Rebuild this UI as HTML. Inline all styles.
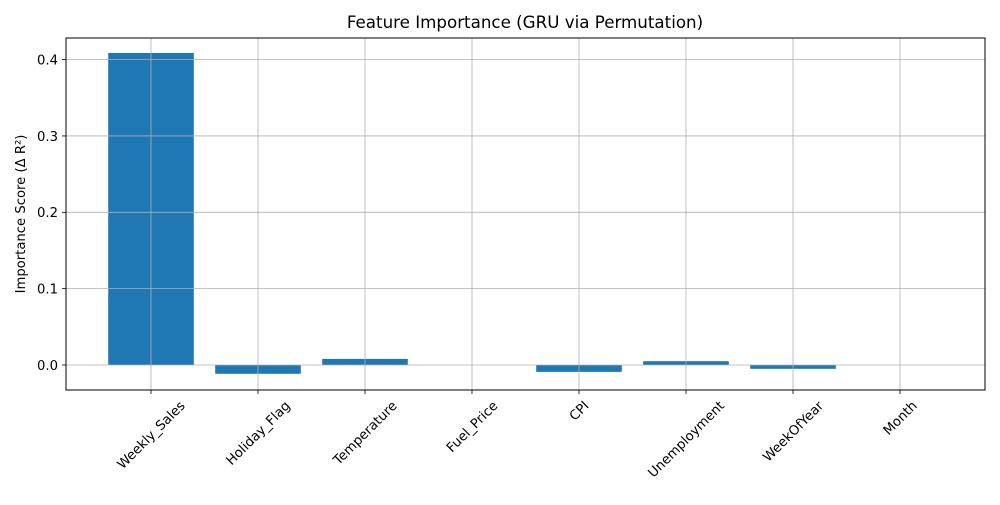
<!DOCTYPE html>
<html><head><meta charset="utf-8"><style>
body{margin:0;background:#fff}
svg text{font-family:"DejaVu Sans","Liberation Sans",sans-serif;fill:#000}
</style></head><body>
<svg id="chart" width="1000" height="500" viewBox="0 0 1000 500">
<rect width="1000" height="500" fill="#fff"/>
<text x="525" y="28" font-size="16.7" text-anchor="middle">Feature Importance (GRU via Permutation)</text>
<g id="bars"></g>
<g id="grid"></g>
<rect x="66" y="38" width="919" height="352" fill="none" stroke="#000" stroke-width="1"/>
<g id="axes"></g>
<text transform="translate(25,214) rotate(-90)" font-size="13.2" text-anchor="middle">Importance Score (Δ R²)</text>
</svg>
<script>
const categories=["Weekly_Sales","Holiday_Flag","Temperature","Fuel_Price","CPI","Unemployment","WeekOfYear","Month"];
const values=[0.4087,-0.0115,0.008,0,-0.009,0.005,-0.005,0];
const yTicks=[0,0.1,0.2,0.3,0.4];
const yTickLabels=["0.0","0.1","0.2","0.3","0.4"];
const NS="http://www.w3.org/2000/svg";
const y=v=>365-v*763.5;
const x=i=>151+107*i;
const bw=85.6;
function mk(t,a,p){const e=document.createElementNS(NS,t);for(const k in a)e.setAttribute(k,a[k]);p.appendChild(e);return e;}
const bars=document.getElementById('bars'),grid=document.getElementById('grid'),axes=document.getElementById('axes');
values.forEach((v,i)=>{
 const r=mk('rect',{x:x(i)-bw/2,y:Math.min(y(v),y(0)),width:bw,height:Math.abs(y(v)-y(0)),fill:'#1f77b4'},bars);
 
 
});
categories.forEach((c,i)=>{
 mk('line',{x1:x(i),x2:x(i),y1:38,y2:390,stroke:'#b0b0b0','stroke-width':0.8},grid);
 mk('line',{x1:x(i),x2:x(i),y1:390,y2:394,stroke:'#000','stroke-width':0.8},axes);
 const t=mk('text',{x:0,y:4.5,'font-size':13.2,'text-anchor':'middle'},axes);
 t.textContent=c;
 
 
 const L=t.getComputedTextLength();
 const half=(L*0.7071+15*0.7071)/2;
 t.setAttribute('transform',`translate(${x(i)},${398+half}) rotate(-45)`);
});
yTicks.forEach((v,i)=>{
 mk('line',{x1:66,x2:985,y1:y(v),y2:y(v),stroke:'#b0b0b0','stroke-width':0.8},grid);
 mk('line',{x1:62,x2:66,y1:y(v),y2:y(v),stroke:'#000','stroke-width':0.8},axes);
 const t=mk('text',{x:58,y:y(v)+4.8,'font-size':13.2,'text-anchor':'end'},axes);
 t.textContent=yTickLabels[i];
 
 
});
</script>
</body></html>
